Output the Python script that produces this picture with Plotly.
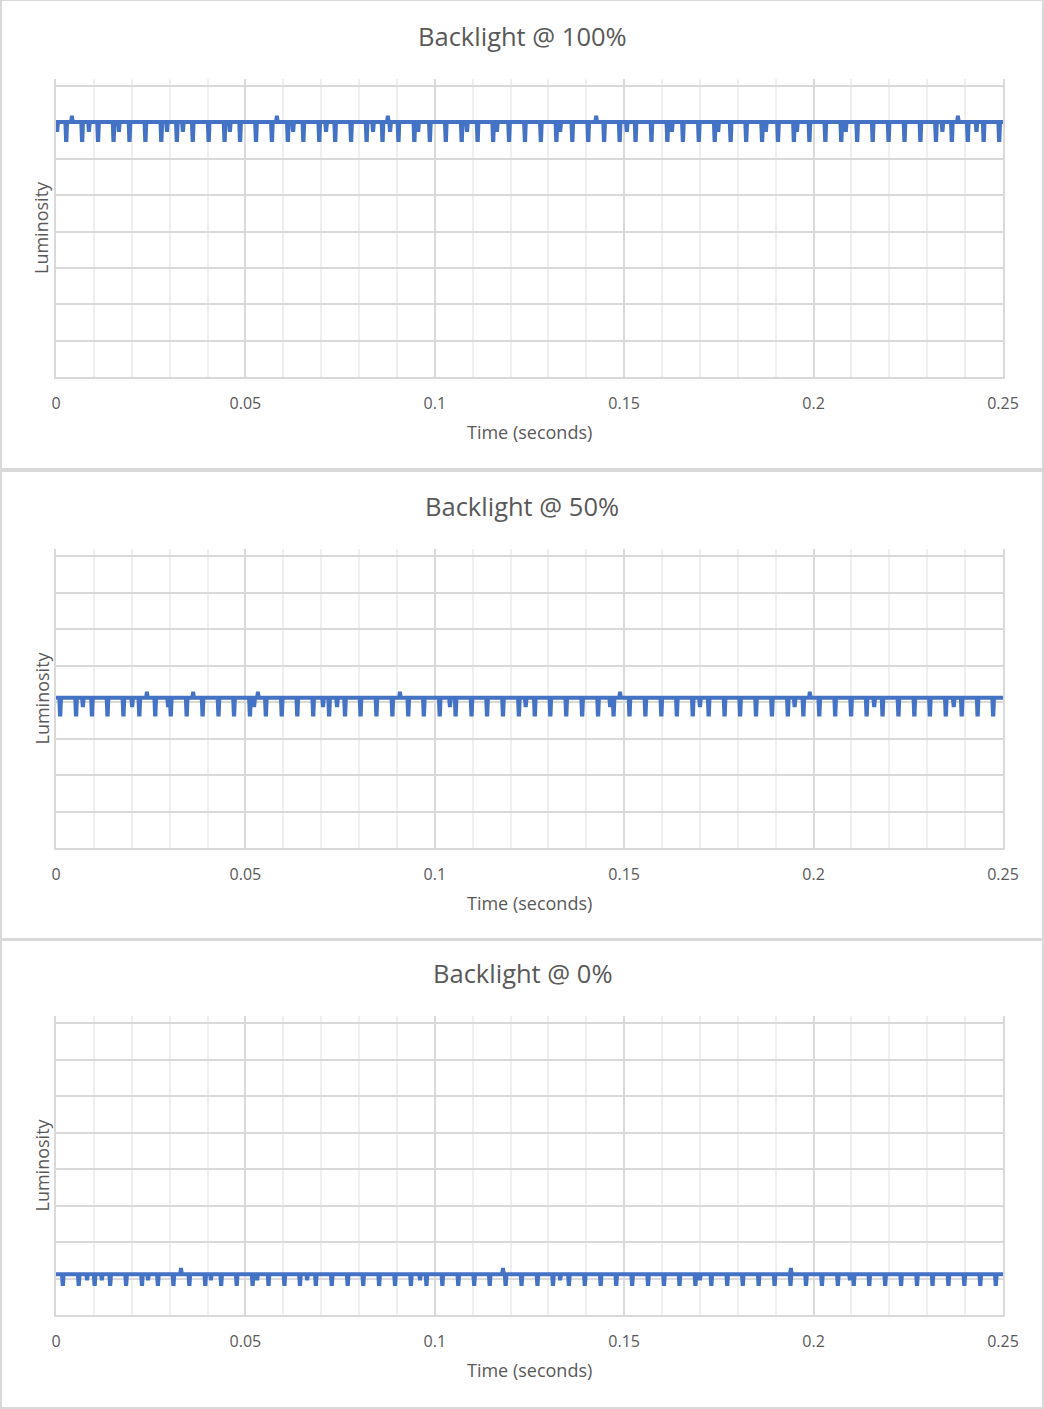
import plotly.graph_objects as go

# chart titles
titles = ["Backlight @ 100%", "Backlight @ 50%", "Backlight @ 0%"]

# steady luminosity level of each trace and the depth of the PWM dips
levels = [7.02, 4.12, 1.12]
depths = [0.50, 0.46, 0.27]

# time (s) of each main dip
dips_100 = [0.0027, 0.0069, 0.0111, 0.0152, 0.0194, 0.0236, 0.0278, 0.0319, 0.0361, 0.0403,
            0.0445, 0.0486, 0.0528, 0.0570, 0.0612, 0.0653, 0.0695, 0.0737, 0.0779, 0.0820,
            0.0862, 0.0904, 0.0946, 0.0987, 0.1029, 0.1071, 0.1113, 0.1154, 0.1196, 0.1238,
            0.1280, 0.1321, 0.1363, 0.1405, 0.1447, 0.1488, 0.1530, 0.1572, 0.1614, 0.1655,
            0.1697, 0.1739, 0.1781, 0.1822, 0.1864, 0.1906, 0.1948, 0.1989, 0.2031, 0.2073,
            0.2115, 0.2156, 0.2198, 0.2240, 0.2282, 0.2323, 0.2365, 0.2407, 0.2449, 0.2490]
dips_50 = [0.0011, 0.0053, 0.0095, 0.0136, 0.0178, 0.0220, 0.0262, 0.0303, 0.0345, 0.0387,
           0.0429, 0.0470, 0.0512, 0.0554, 0.0596, 0.0637, 0.0679, 0.0721, 0.0763, 0.0804,
           0.0846, 0.0888, 0.0930, 0.0971, 0.1013, 0.1055, 0.1097, 0.1138, 0.1180, 0.1222,
           0.1264, 0.1305, 0.1347, 0.1389, 0.1431, 0.1472, 0.1514, 0.1556, 0.1598, 0.1639,
           0.1681, 0.1723, 0.1765, 0.1806, 0.1848, 0.1890, 0.1932, 0.1973, 0.2015, 0.2057,
           0.2099, 0.2140, 0.2182, 0.2224, 0.2266, 0.2307, 0.2349, 0.2391, 0.2433, 0.2474]
dips_0 = [0.0018, 0.0060, 0.0102, 0.0143, 0.0185, 0.0227, 0.0269, 0.0310, 0.0352, 0.0394,
          0.0436, 0.0477, 0.0519, 0.0561, 0.0603, 0.0644, 0.0686, 0.0728, 0.0770, 0.0811,
          0.0853, 0.0895, 0.0937, 0.0978, 0.1020, 0.1062, 0.1104, 0.1145, 0.1187, 0.1229,
          0.1271, 0.1312, 0.1354, 0.1396, 0.1438, 0.1479, 0.1521, 0.1563, 0.1605, 0.1646,
          0.1688, 0.1730, 0.1772, 0.1813, 0.1855, 0.1897, 0.1939, 0.1980, 0.2022, 0.2064,
          0.2106, 0.2147, 0.2189, 0.2231, 0.2273, 0.2314, 0.2356, 0.2398, 0.2440, 0.2481]

# smaller dips between the main ones
minor_100 = [0.0003, 0.0087, 0.0166, 0.0293, 0.0335, 0.0459, 0.0626, 0.0713, 0.0837, 0.0882,
             0.0956, 0.1085, 0.1164, 0.1331, 0.1507, 0.1626, 0.1748, 0.1874, 0.1956, 0.2085,
             0.2340, 0.2430]
minor_50 = [0.0071, 0.0201, 0.0296, 0.0523, 0.0705, 0.0742, 0.1040, 0.1240, 0.1463, 0.1700,
            0.1950, 0.2160, 0.2370]
minor_0 = [0.0082, 0.0121, 0.0243, 0.0409, 0.0531, 0.0663, 0.0961, 0.1331, 0.1700, 0.2096]

# little upward spikes
bumps_100 = [0.0042, 0.0583, 0.0876, 0.1426, 0.2381]
bumps_50 = [0.0240, 0.0362, 0.0533, 0.0908, 0.1489, 0.1990]
bumps_0 = [0.0330, 0.1180, 0.1940]

x_ticks = [0, 0.05, 0.1, 0.15, 0.2, 0.25]

W, H = 1044, 1409
GREY = "#595959"
FONT = "Open Sans"
BLUE = "#4472C4"


def build_trace(base, depth, dips, minor, bumps):
    events = [(t, -depth) for t in dips]
    events += [(t, -depth * 0.45) for t in minor]
    events += [(t, 0.12) for t in bumps]
    events.sort()
    xs, ys = [0.0], [base]
    for t, dy in events:
        xs += [t - 0.00022, t - 0.00005, t + 0.00005, t + 0.00022]
        ys += [base, base + dy, base + dy, base]
    xs.append(0.25)
    ys.append(base)
    return xs, ys


fig = go.Figure()

series = [(dips_100, minor_100, bumps_100), (dips_50, minor_50, bumps_50), (dips_0, minor_0, bumps_0)]

# pixel layout of each panel (plot top, plot bottom, panel top, panel bottom)
panels = [(79, 377, 0, 469), (549, 848, 471, 939), (1016, 1315, 940, 1408)]
x0_px, x1_px = 56, 1003

for i, (dips, minor, bumps) in enumerate(series):
    xs, ys = build_trace(levels[i], depths[i], dips, minor, bumps)
    n = "" if i == 0 else str(i + 1)
    fig.add_trace(go.Scatter(x=xs, y=ys, mode="lines", xaxis="x" + n, yaxis="y" + n,
                             line=dict(color=BLUE, width=4), showlegend=False,
                             hoverinfo="skip"))
    top, bot, ptop, pbot = panels[i]
    fig.update_layout({
        "xaxis" + n: dict(
            domain=[x0_px / W, x1_px / W], anchor="y" + n, range=[0, 0.25],
            tickvals=x_ticks, showgrid=True, gridcolor="#d9d9d9", gridwidth=1.5,
            minor=dict(dtick=0.01, showgrid=True, gridcolor="#efefef", gridwidth=1.5),
            showline=True, linecolor="#d9d9d9", linewidth=1.5, zeroline=False,
            ticks="", ticklabelstandoff=11, automargin=False,
            tickfont=dict(family=FONT, size=16, color=GREY),
        ),
        "yaxis" + n: dict(
            domain=[1 - bot / H, 1 - top / H], anchor="x" + n, range=[0, 8.2],
            dtick=1, showticklabels=False, showgrid=True, gridcolor="#d9d9d9",
            gridwidth=1.5, zeroline=False, showline=True, mirror=True,
            linecolor="#d9d9d9", linewidth=2, ticks="", automargin=False,
        ),
    })
    # chart title and axis titles
    fig.add_annotation(text=titles[i], x=522 / W, y=1 - (top - 43) / H, xref="paper", yref="paper",
                       showarrow=False, font=dict(family=FONT, size=25.5, color=GREY),
                       xanchor="center", yanchor="middle")
    fig.add_annotation(text="Time (seconds)", x=529 / W, y=1 - (bot + 55) / H, xref="paper",
                       yref="paper", showarrow=False, font=dict(family=FONT, size=18, color=GREY),
                       xanchor="center", yanchor="middle")
    fig.add_annotation(text="Luminosity", x=41 / W, y=1 - (top + bot) / 2 / H, xref="paper",
                       yref="paper", showarrow=False, textangle=-90,
                       font=dict(family=FONT, size=18, color=GREY),
                       xanchor="center", yanchor="middle")
    # chart border
    fig.add_shape(type="rect", xref="paper", yref="paper", x0=1 / W, x1=1 - 1 / W,
                  y0=1 - pbot / H, y1=1 - ptop / H, line=dict(color="#d9d9d9", width=2))

fig.update_layout(
    template="none",
    autosize=False,
    width=W,
    height=H,
    margin=dict(l=0, r=0, t=0, b=0, pad=0, autoexpand=False),
    paper_bgcolor="white",
    plot_bgcolor="white",
    font=dict(family=FONT, color=GREY),
)

fig.write_html(
    "out.html",
    config={"displayModeBar": False, "responsive": False},
    post_script="document.body.style.margin='0';document.body.style.overflow='hidden';",
)
